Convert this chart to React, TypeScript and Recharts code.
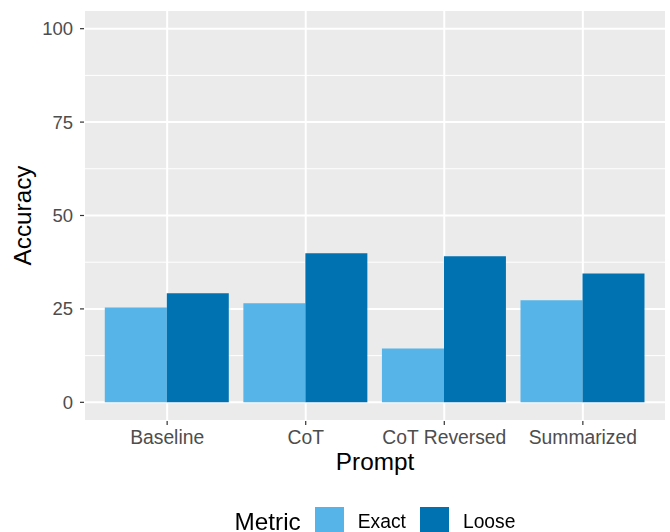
import {
  BarChart,
  Bar,
  XAxis,
  YAxis,
  CartesianGrid,
  Legend,
} from "recharts";

// prompts on the x axis
const prompts = ["Baseline", "CoT", "CoT Reversed", "Summarized"];

// accuracy per prompt
const exactValues = [25.4, 26.5, 14.4, 27.3];
const looseValues = [29.2, 39.9, 39.1, 34.5];

const metricNames = ["Exact", "Loose"];
const metricColors = ["#56B4E9", "#0072B2"];

const yTicks = [0, 25, 50, 75, 100];
const yMinorTicks = [12.5, 37.5, 62.5, 87.5];

const data = prompts.map((prompt, i) => ({
  prompt,
  Exact: exactValues[i],
  Loose: looseValues[i],
}));

const FONT = "'Liberation Sans', Arial, Helvetica, sans-serif";

function MetricLegend(props: any) {
  const payload = props.payload || [];

  return (
    <div
      style={{
        display: "flex",
        alignItems: "center",
        justifyContent: "center",
        paddingLeft: 84,
        paddingTop: 15,
        fontFamily: FONT,
      }}
    >
      <span style={{ fontSize: 24.3, color: "#000", marginRight: 14 }}>
        Metric
      </span>

      {payload.map((entry: any, i: number) => (
        <span
          key={entry.value}
          style={{ display: "flex", alignItems: "center", marginRight: i === payload.length - 1 ? 0 : 14 }}
        >
          <span
            style={{
              width: 29,
              height: 29,
              background: entry.color,
              display: "inline-block",
              marginRight: 14,
            }}
          />
          <span style={{ fontSize: 19.3, color: "#000" }}>{entry.value}</span>
        </span>
      ))}
    </div>
  );
}

export default function App() {
  return (
    <div
      style={{
        position: "fixed",
        left: 0,
        top: 0,
        width: 670,
        height: 532,
        background: "#fff",
      }}
    >
      <BarChart
        width={670}
        height={532}
        data={data}
        margin={{ top: 10, right: 4, left: 0, bottom: 0 }}
        barCategoryGap="5%"
        barGap={0}
        style={{ fontFamily: FONT }}
      >
        <CartesianGrid
          fill="#EBEBEB"
          stroke="#FFFFFF"
          strokeWidth={2}
        />

        <CartesianGrid
          stroke="#FFFFFF"
          strokeWidth={1}
          vertical={false}
          horizontalValues={yMinorTicks}
        />

        <XAxis
          dataKey="prompt"
          height={71}
          axisLine={false}
          tickSize={4}
          tickMargin={5}
          tickLine={{ stroke: "#333333", strokeWidth: 1.2 }}
          tick={{ fill: "#4D4D4D", fontSize: 19.3 }}
          padding={{ left: 13.86, right: 13.86 }}
          interval={0}
          label={{
            content: (p: any) => {
              const vb = p.viewBox;
              return (
                <text
                  x={vb.x + vb.width / 2}
                  y={vb.y + 49}
                  textAnchor="middle"
                  fill="#000"
                  fontSize={24.3}
                >
                  Prompt
                </text>
              );
            },
          }}
        />

        <YAxis
          width={84}
          domain={[-5, 105]}
          ticks={yTicks}
          allowDataOverflow
          axisLine={false}
          tickSize={4}
          tickMargin={7}
          tickLine={{ stroke: "#333333", strokeWidth: 1.2 }}
          tick={{ fill: "#4D4D4D", fontSize: 18.5 }}
          label={{
            content: (p: any) => {
              const vb = p.viewBox;
              const cx = vb.x + 31;
              const cy = vb.y + vb.height / 2;
              return (
                <text
                  x={cx}
                  y={cy}
                  transform={`rotate(-90, ${cx}, ${cy})`}
                  textAnchor="middle"
                  fill="#000"
                  fontSize={24.3}
                >
                  Accuracy
                </text>
              );
            },
          }}
        />

        <Legend
          verticalAlign="bottom"
          height={40}
          content={(p: any) => <MetricLegend {...p} />}
        />

        {metricNames.map((name, i) => (
          <Bar
            key={name}
            dataKey={name}
            name={name}
            fill={metricColors[i]}
            isAnimationActive={false}
          />
        ))}
      </BarChart>
    </div>
  );
}
